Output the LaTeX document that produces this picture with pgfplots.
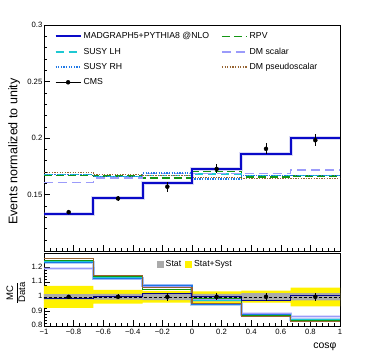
\documentclass[border=0pt]{standalone}
\usepackage{pgfplots}
\pgfplotsset{compat=1.18}
\usepackage{fontspec}
\setmainfont{Liberation Sans}

\definecolor{mgblue}{RGB}{10,10,200}
\definecolor{rpvgreen}{RGB}{20,150,20}
\definecolor{lhcyan}{RGB}{30,200,210}
\definecolor{rhblue}{RGB}{30,120,230}
\definecolor{dmscal}{RGB}{155,155,250}
\definecolor{dmpseudo}{RGB}{150,100,50}
\definecolor{statgray}{RGB}{170,170,170}

\begin{document}
\begin{tikzpicture}
\pgfplotsset{
  every axis/.append style={
    scale only axis, width=296pt,
    xmin=-1, xmax=1,
    tick align=inside, xtick pos=bottom, ytick pos=left,
    major tick length=6pt, minor tick length=3pt,
    every tick/.style={black, line width=0.4pt},
    axis line style={line width=0.5pt},
    xtick={-1,-0.8,-0.6,-0.4,-0.2,0,0.2,0.4,0.6,0.8,1},
    minor x tick num=4, minor y tick num=4,
    tick label style={font=\fontsize{7.7}{9}\selectfont, inner sep=1.5pt},
  },
  halo/.style={line width=3pt, opacity=0.35, const plot, forget plot},
}
% ---------------- top panel ----------------
\begin{axis}[
  name=top, height=226pt,
  ymin=0.1, ymax=0.3,
  ytick={0.1,0.15,0.2,0.25,0.3},
  yticklabels={,0.15,0.2,0.25,0.3},
  xticklabels={},
  ylabel={Events normalized to unity},
  ylabel style={at={(axis description cs:-0.101,0.44)}, anchor=center,
    font=\fontsize{12.5}{14}\selectfont},
  legend columns=2,
  legend cell align=left,
  legend image code/.code={\draw[#1] (0pt,0pt) -- (25pt,0pt);},
  legend style={draw=none, fill=none, font=\fontsize{8.7}{10}\selectfont,
    at={(axis description cs:0.025,0.985)}, anchor=north west,
    row sep=3.5pt,
    /tikz/every even column/.append style={column sep=10pt}},
]
\addplot[mgblue!45, halo, line width=4pt] coordinates {
  (-1,0.1326) (-0.6667,0.1465) (-0.3333,0.1602) (0,0.1729) (0.3333,0.1862) (0.6667,0.2004) (1,0.2004)};
\addplot[mgblue, line width=2pt, const plot] coordinates {
  (-1,0.1326) (-0.6667,0.1465) (-0.3333,0.1602) (0,0.1729) (0.3333,0.1862) (0.6667,0.2004) (1,0.2004)};
\addlegendentry{MADGRAPH5+PYTHIA8 @NLO}
\addplot[rpvgreen, line width=1.5pt, const plot, dash pattern=on 8pt off 4pt] coordinates {
  (-1,0.1670) (-0.6667,0.1663) (-0.3333,0.1648) (0,0.1702) (0.3333,0.1655) (0.6667,0.1662) (1,0.1662)};
\addlegendentry{RPV}
\addplot[lhcyan, line width=1.5pt, const plot, dash pattern=on 8pt off 5pt] coordinates {
  (-1,0.1678) (-0.6667,0.1658) (-0.3333,0.1668) (0,0.1680) (0.3333,0.1666) (0.6667,0.1670) (1,0.1670)};
\addlegendentry{SUSY LH}
\addplot[dmscal, line width=1.5pt, const plot, dash pattern=on 9pt off 5pt] coordinates {
  (-1,0.1607) (-0.6667,0.1646) (-0.3333,0.1685) (0,0.1688) (0.3333,0.1687) (0.6667,0.1717) (1,0.1717)};
\addlegendentry{DM scalar}
\addplot[rhblue, line width=1.5pt, const plot, dash pattern=on 1.3pt off 1.3pt] coordinates {
  (-1,0.1675) (-0.6667,0.1660) (-0.3333,0.1690) (0,0.1638) (0.3333,0.1668) (0.6667,0.1669) (1,0.1669)};
\addlegendentry{SUSY RH}
\addplot[dmpseudo, line width=1.5pt, const plot, dash pattern=on 1.3pt off 1.3pt] coordinates {
  (-1,0.1696) (-0.6667,0.1676) (-0.3333,0.1668) (0,0.1652) (0.3333,0.1643) (0.6667,0.1643) (1,0.1643)};
\addlegendentry{DM pseudoscalar}
\addplot[mgblue, line width=2pt, const plot, forget plot] coordinates {
  (-1,0.1326) (-0.6667,0.1465) (-0.3333,0.1602) (0,0.1729) (0.3333,0.1862) (0.6667,0.2004) (1,0.2004)};
\addplot[black, only marks, mark=*, mark size=2pt,
  legend image code/.code={\draw[black, line width=0.6pt] (0pt,0pt) -- (25pt,0pt);
    \draw[black, mark=*, mark size=2pt] plot coordinates {(12.5pt,0pt)};},
  error bars/.cd, y dir=both, y explicit, error mark=none,
  error bar style={line width=0.6pt}] coordinates {
  (-0.8333,0.1344) +- (0,0.0020)
  (-0.5,0.1465) +- (0,0.0025)
  (-0.1667,0.1569) +- (0,0.0045)
  (0.1667,0.1726) +- (0,0.0040)
  (0.5,0.1904) +- (0,0.0050)
  (0.8333,0.1980) +- (0,0.0055)};
\addlegendentry{CMS}
\end{axis}
% ---------------- ratio panel ----------------
\begin{axis}[
  at={(top.south west)}, anchor=north west, yshift=-2pt, height=73pt,
  ymin=0.8, ymax=1.3,
  ytick={0.8,0.9,1,1.1,1.2},
  yticklabels={0.8,0.9,1,1.1,1.2},
  yticklabel style={yshift=1pt},
  xticklabels={−1,−0.8,−0.6,−0.4,−0.2,0,0.2,0.4,0.6,0.8,1},
  xticklabel style={yshift=-1.5pt},
  ylabel={$\displaystyle\frac{\mbox{MC}}{\mbox{Data}}$},
  ylabel style={at={(axis description cs:-0.095,0.456)}, anchor=center,
    font=\fontsize{9.5}{11}\selectfont},
  xlabel={cosφ},
  xlabel style={at={(axis description cs:1,-0.29)}, anchor=east,
    font=\fontsize{10.5}{12}\selectfont},
  legend columns=2,
  reverse legend,
  legend image code/.code={\fill[#1] (0pt,-3.5pt) rectangle (7pt,3.5pt);},
  legend style={draw=none, fill=none, font=\fontsize{8.7}{10}\selectfont,
    at={(axis description cs:0.37,0.95)}, anchor=north west,
    /tikz/every even column/.append style={column sep=2pt}},
]
% stat+syst band (upper edge left to right, lower edge right to left)
\addplot[fill=yellow, draw=none] coordinates {
  (-1,1.075) (-0.6667,1.075) (-0.6667,1.048) (-0.3333,1.048) (-0.3333,1.040) (0,1.040)
  (0,1.037) (0.3333,1.037) (0.3333,1.042) (0.6667,1.042) (0.6667,1.062) (1,1.062)
  (1,0.935) (0.6667,0.935) (0.6667,0.960) (0.3333,0.960) (0.3333,0.958) (0,0.958)
  (0,0.960) (-0.3333,0.960) (-0.3333,0.953) (-0.6667,0.953) (-0.6667,0.925) (-1,0.925)} -- cycle;
% stat band
\addplot[fill=statgray, draw=none] coordinates {
  (-1,1.018) (-0.6667,1.018) (-0.6667,1.020) (-0.3333,1.020) (-0.3333,1.022) (0,1.022)
  (0,1.020) (0.3333,1.020) (0.3333,1.025) (0.6667,1.025) (0.6667,1.025) (1,1.025)
  (1,0.975) (0.6667,0.975) (0.6667,0.975) (0.3333,0.975) (0.3333,0.980) (0,0.980)
  (0,0.978) (-0.3333,0.978) (-0.3333,0.980) (-0.6667,0.980) (-0.6667,0.982) (-1,0.982)} -- cycle;
\legend{Stat+Syst,Stat}
% model ratios: light halo for the MC uncertainty, then the line
\addplot[dmscal, halo] coordinates {
  (-1,1.196) (-0.6667,1.124) (-0.3333,1.074) (0,0.978) (0.3333,0.886) (0.6667,0.867) (1,0.867)};
\addplot[rhblue, halo] coordinates {
  (-1,1.236) (-0.6667,1.123) (-0.3333,1.077) (0,0.949) (0.3333,0.876) (0.6667,0.843) (1,0.843)};
\addplot[dmscal, line width=1.1pt, const plot, forget plot] coordinates {
  (-1,1.196) (-0.6667,1.124) (-0.3333,1.074) (0,0.978) (0.3333,0.886) (0.6667,0.867) (1,0.867)};
\addplot[rhblue, line width=1.1pt, const plot, forget plot] coordinates {
  (-1,1.236) (-0.6667,1.123) (-0.3333,1.077) (0,0.949) (0.3333,0.876) (0.6667,0.843) (1,0.843)};
\addplot[lhcyan, line width=1.1pt, const plot, forget plot] coordinates {
  (-1,1.243) (-0.6667,1.130) (-0.3333,1.063) (0,0.973) (0.3333,0.875) (0.6667,0.843) (1,0.843)};
\addplot[rpvgreen, line width=1.1pt, const plot, forget plot] coordinates {
  (-1,1.250) (-0.6667,1.136) (-0.3333,1.050) (0,0.986) (0.3333,0.869) (0.6667,0.839) (1,0.839)};
\addplot[dmpseudo, line width=1.1pt, const plot, forget plot] coordinates {
  (-1,1.262) (-0.6667,1.144) (-0.3333,1.063) (0,0.957) (0.3333,0.863) (0.6667,0.830) (1,0.830)};
\addplot[mgblue!70!black, line width=1pt, const plot, forget plot] coordinates {
  (-1,0.987) (-0.6667,1.000) (-0.3333,1.021) (0,1.002) (0.3333,0.978) (0.6667,1.012) (1,1.012)};
\addplot[black, line width=0.6pt, dash pattern=on 3pt off 2pt, forget plot] coordinates {(-1,1) (1,1)};
\addplot[black, only marks, mark=*, mark size=2pt, forget plot,
  error bars/.cd, y dir=both, y explicit, error mark=none,
  error bar style={line width=0.6pt}] coordinates {
  (-0.8333,1) +- (0,0.015)
  (-0.5,1) +- (0,0.017)
  (-0.1667,1) +- (0,0.028)
  (0.1667,1) +- (0,0.023)
  (0.5,1) +- (0,0.026)
  (0.8333,1) +- (0,0.028)};
\end{axis}
% page frame: 370 x 360, top panel's upper-left corner at (44,25) from the page's top-left
\path (top.north west) ++(-44pt,25pt) rectangle ++(370pt,-360pt);
\end{tikzpicture}
\end{document}
